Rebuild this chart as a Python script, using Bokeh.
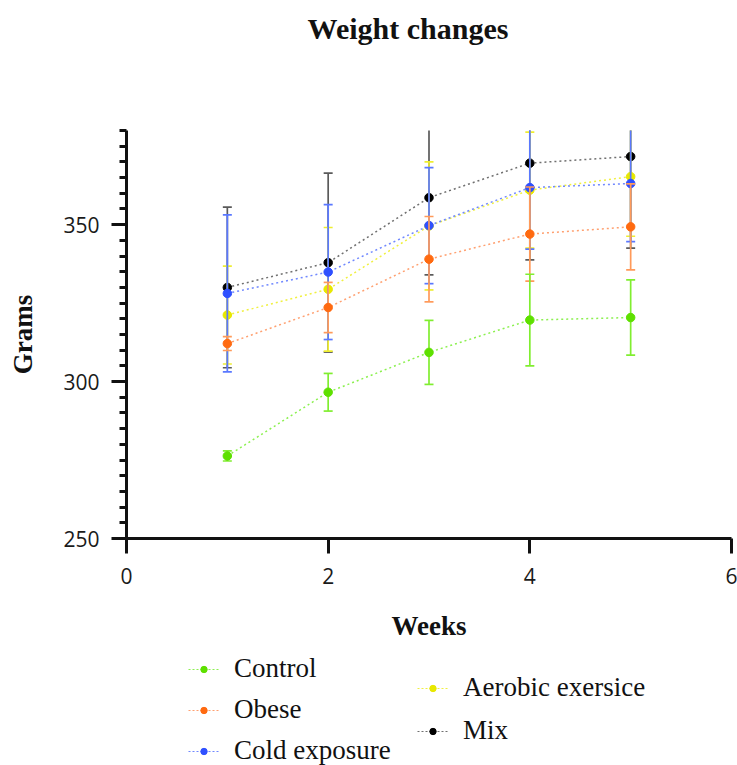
from bokeh.plotting import figure
from bokeh.layouts import column
from bokeh.models import (Range1d, SingleIntervalTicker, FixedTicker, Legend,
                          LegendItem, ColumnDataSource, Label)
from bokeh.embed import file_html
from bokeh.resources import INLINE

weeks = [1, 2, 3, 4, 5]
control_mean = [276.3, 296.6, 309.3, 319.6, 320.4]
control_err = [1.6, 6.0, 10.2, 14.6, 12.0]
obese_mean = [312.1, 323.6, 339.0, 347.0, 349.3]
obese_err = [2.2, 8.0, 13.6, 15.0, 13.7]
aerobic_mean = [321.2, 329.4, 349.6, 361.0, 365.3]
aerobic_err = [15.6, 19.7, 20.4, 18.5, 19.0]
cold_mean = [328.1, 334.9, 349.7, 361.8, 363.1]
cold_err = [25.0, 21.5, 18.5, 19.6, 18.5]
mix_mean = [330.0, 337.9, 358.6, 369.6, 371.7]
mix_err = [25.6, 28.5, 24.6, 30.8, 29.2]

x_ticks = [0, 2, 4, 6]
title_text = "Weight changes"

# name, means, errors, point colour, bar colour, line colour
series = {
    "Control": (control_mean, control_err, "#5ee000", "#80ee30", "#8cf050"),
    "Obese": (obese_mean, obese_err, "#ff6a10", "#ff9a5a", "#ffa070"),
    "Cold exposure": (cold_mean, cold_err, "#2f50ff", "#5a78ff", "#7088ff"),
    "Aerobic exersice": (aerobic_mean, aerobic_err, "#e8e800", "#eeee30", "#f0f040"),
    "Mix": (mix_mean, mix_err, "#000000", "#5a5a5a", "#707070"),
}
draw_order = ["Mix", "Aerobic exersice", "Cold exposure", "Obese", "Control"]

W = 737
FRAME_LEFT = 126
FRAME_RIGHT_PAD = 6
FW = W - FRAME_LEFT - FRAME_RIGHT_PAD
HT = 120           # title strip height
H1 = 532           # chart height
LH = 765 - HT - H1 # legend strip height

def strip(h):
    f = figure(width=W, height=h, output_backend="svg", toolbar_location=None,
               x_range=Range1d(0, FW), y_range=Range1d(0, h),
               x_axis_location=None, y_axis_location=None,
               min_border_left=FRAME_LEFT, min_border_right=FRAME_RIGHT_PAD,
               min_border_top=0, min_border_bottom=0)
    f.outline_line_color = None
    f.grid.visible = False
    return f

# ---- title strip ----
tf = strip(HT)
tf.add_layout(Label(x=407.5 - FRAME_LEFT, y=HT - 28, text=title_text,
                    text_font="Liberation Serif", text_font_style="bold",
                    text_font_size="30px", text_color="#111111",
                    text_align="center", text_baseline="alphabetic"))

# ---- chart ----
p = figure(width=W, height=H1, output_backend="svg", toolbar_location=None,
           x_range=Range1d(0, 6), y_range=Range1d(250, 380),
           min_border_left=FRAME_LEFT, min_border_right=FRAME_RIGHT_PAD,
           min_border_top=130 - HT, min_border_bottom=HT + H1 - 538)
p.outline_line_color = None
p.grid.visible = False
p.background_fill_color = None
p.border_fill_color = "white"

# ---- legend strip (its glyph copies fall outside its view) ----
lf = figure(width=W, height=LH, output_backend="svg", toolbar_location=None,
            x_range=Range1d(-10, -9), y_range=Range1d(-10, -9),
            x_axis_location=None, y_axis_location=None,
            min_border_left=FRAME_LEFT, min_border_right=FRAME_RIGHT_PAD,
            min_border_top=0, min_border_bottom=0)
lf.outline_line_color = None
lf.grid.visible = False

renderers = {}
for name in draw_order:
    mean, err, pc, bc, lc = series[name]
    src = ColumnDataSource(dict(
        x=weeks, y=mean,
        lo=[m - e for m, e in zip(mean, err)],
        hi=[m + e for m, e in zip(mean, err)],
    ))
    p.line("x", "y", source=src, line_color=lc, line_width=1.5, line_dash="2 3")
    p.segment("x", "lo", "x", "hi", source=src, line_color=bc, line_width=1.7)
    p.scatter("x", "lo", source=src, marker="dash", size=9, line_color=bc,
              line_width=1.7)
    p.scatter("x", "hi", source=src, marker="dash", size=9, line_color=bc,
              line_width=1.7)
    p.scatter("x", "y", source=src, marker="circle", size=8.5,
              fill_color=pc, line_color=pc)
    lr = lf.line("x", "y", source=src, line_color=lc, line_width=1.2,
                 line_dash="2 2")
    sr = lf.scatter("x", "y", source=src, marker="circle", size=6,
                    fill_color=pc, line_color=pc)
    renderers[name] = [lr, sr]

# axes
for ax in (p.xaxis[0], p.yaxis[0]):
    ax.axis_line_width = 3
    ax.axis_line_color = "#111111"
    ax.major_tick_line_width = 3
    ax.major_tick_line_color = "#111111"
    ax.minor_tick_line_width = 3
    ax.minor_tick_line_color = "#111111"
    ax.major_tick_out = 15
    ax.major_tick_in = 0
    ax.major_label_text_font = "Open Sans"
    ax.major_label_text_font_size = "21px"
    ax.major_label_text_color = "#1a1a1a"
    ax.axis_label_text_font = "Liberation Serif"
    ax.axis_label_text_font_style = "bold"
    ax.axis_label_text_font_size = "27px"
    ax.axis_label_text_color = "#111111"

p.yaxis.ticker = SingleIntervalTicker(interval=50, num_minor_ticks=10)
p.yaxis.minor_tick_out = 7
p.yaxis.minor_tick_in = 0
p.yaxis.major_label_standoff = 12
p.yaxis.axis_label = "Grams"
p.yaxis.axis_label_standoff = 22

p.xaxis.ticker = FixedTicker(ticks=x_ticks, minor_ticks=[])
p.xaxis.minor_tick_out = 0
p.xaxis.major_label_standoff = 14
p.xaxis.axis_label = "Weeks"
p.xaxis.axis_label_standoff = 24

def make_legend(names, x, top, pitch):
    item_h = 30
    lg = Legend(items=[LegendItem(label=n, renderers=renderers[n]) for n in names],
                orientation="vertical")
    n = len(names)
    bottom = top + n * item_h + (n - 1) * (pitch - item_h)
    # the strip's frame is aligned with the chart's frame (left edge FRAME_LEFT)
    lg.location = (x - FRAME_LEFT, LH - bottom)
    lg.border_line_color = None
    lg.background_fill_alpha = 0
    lg.padding = 0
    lg.margin = 0
    lg.spacing = pitch - item_h
    lg.glyph_width = 31
    lg.glyph_height = 16
    lg.label_height = item_h
    lg.label_standoff = 15
    lg.label_text_font = "Liberation Serif"
    lg.label_text_font_size = "27px"
    lg.label_text_color = "#111111"
    lg.label_text_baseline = "middle"
    return lg

# row tops in strip pixels (strip starts at page y = HT + H1)
y0 = HT + H1
lf.add_layout(make_legend(["Control", "Obese", "Cold exposure"], 188, 656 - y0, 40), "center")
lf.add_layout(make_legend(["Aerobic exersice", "Mix"], 417, 674 - y0, 42), "center")

layout = column(tf, p, lf, spacing=0)
open("out.html", "w").write(file_html(layout, INLINE))
